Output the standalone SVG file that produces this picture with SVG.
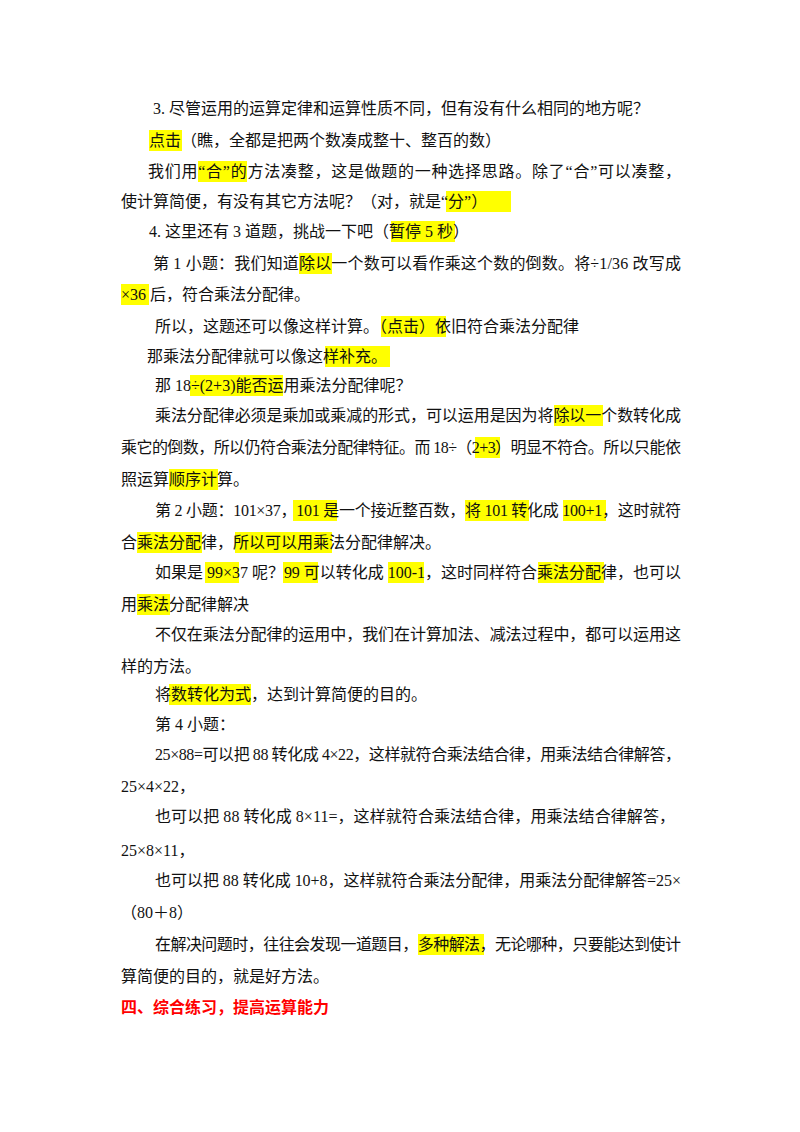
<svg xmlns="http://www.w3.org/2000/svg" width="800" height="1132" viewBox="0 0 800 1132">
<style>
text{font-family:"Liberation Serif","Noto Sans CJK SC",serif;font-size:16px;fill:#111}
.h{fill:#ffff00}
.r{fill:#ff0000;font-weight:bold}
</style>
<rect width="800" height="1132" fill="#fff"/>
<g id="highlights">
<rect class="h" x="149" y="130" width="33" height="21"/>
<rect class="h" x="198" y="161" width="49" height="21"/>
<rect class="h" x="446" y="191" width="65" height="21"/>
<rect class="h" x="391" y="221" width="64" height="21"/>
<rect class="h" x="299" y="253" width="33" height="21"/>
<rect class="h" x="121" y="284" width="28" height="21"/>
<rect class="h" x="381" y="316" width="65" height="21"/>
<rect class="h" x="325" y="346" width="65" height="21"/>
<rect class="h" x="190" y="375" width="93" height="21"/>
<rect class="h" x="554" y="405" width="49" height="21"/>
<rect class="h" x="475" y="437" width="25" height="21"/>
<rect class="h" x="169" y="469" width="49" height="21"/>
<rect class="h" x="293" y="500" width="44" height="21"/>
<rect class="h" x="465" y="500" width="64" height="21"/>
<rect class="h" x="563" y="500" width="43" height="21"/>
<rect class="h" x="137" y="532" width="65" height="21"/>
<rect class="h" x="235" y="532" width="97" height="21"/>
<rect class="h" x="205" y="562" width="34" height="21"/>
<rect class="h" x="283" y="562" width="35" height="21"/>
<rect class="h" x="388" y="562" width="36" height="21"/>
<rect class="h" x="538" y="562" width="66" height="21"/>
<rect class="h" x="137" y="594" width="33" height="21"/>
<rect class="h" x="169" y="684" width="82" height="21"/>
<rect class="h" x="418" y="934" width="66" height="21"/>
</g>
<g id="text">
<text x="153" y="114">3. 尽管运用的运算定律和运算性质不同，但有没有什么相同的地方呢？</text>
<text x="149" y="146">点击（瞧，全都是把两个数凑成整十、整百的数）</text>
<text x="148" y="177" textLength="533" lengthAdjust="spacing">我们用“合”的方法凑整，这是做题的一种选择思路。除了“合”可以凑整，</text>
<text x="121" y="207">使计算简便，有没有其它方法呢？（对，就是“分”）</text>
<text x="149" y="237">4. 这里还有 3 道题，挑战一下吧（暂停 5 秒）</text>
<text x="153" y="269" textLength="528" lengthAdjust="spacing">第 1 小题：我们知道除以一个数可以看作乘这个数的倒数。将÷1/36 改写成</text>
<text x="121" y="300">×36 后，符合乘法分配律。</text>
<text x="155" y="332">所以，这题还可以像这样计算。（点击）依旧符合乘法分配律</text>
<text x="147" y="362">那乘法分配律就可以像这样补充。</text>
<text x="155" y="391">那 18÷(2+3)能否运用乘法分配律呢？</text>
<text x="155" y="421" textLength="526" lengthAdjust="spacing">乘法分配律必须是乘加或乘减的形式，可以运用是因为将除以一个数转化成</text>
<text x="121" y="453" textLength="560" lengthAdjust="spacing">乘它的倒数，所以仍符合乘法分配律特征。而 18÷（2+3）明显不符合。所以只能依</text>
<text x="121" y="485">照运算顺序计算。</text>
<text x="155" y="516" textLength="526" lengthAdjust="spacing">第 2 小题：101×37，101 是一个接近整百数，将 101 转化成 100+1，这时就符</text>
<text x="121" y="548">合乘法分配律，所以可以用乘法分配律解决。</text>
<text x="155" y="578" textLength="526" lengthAdjust="spacing">如果是 99×37 呢？99 可以转化成 100-1，这时同样符合乘法分配律，也可以</text>
<text x="121" y="610">用乘法分配律解决</text>
<text x="155" y="640" textLength="526" lengthAdjust="spacing">不仅在乘法分配律的运用中，我们在计算加法、减法过程中，都可以运用这</text>
<text x="121" y="672">样的方法。</text>
<text x="155" y="700">将数转化为式，达到计算简便的目的。</text>
<text x="155" y="730">第 4 小题：</text>
<text x="155" y="760" textLength="526" lengthAdjust="spacing">25×88=可以把 88 转化成 4×22，这样就符合乘法结合律，用乘法结合律解答，</text>
<text x="121" y="792">25×4×22，</text>
<text x="155" y="822" textLength="520" lengthAdjust="spacing">也可以把 88 转化成 8×11=，这样就符合乘法结合律，用乘法结合律解答，</text>
<text x="121" y="856">25×8×11，</text>
<text x="155" y="886" textLength="526" lengthAdjust="spacing">也可以把 88 转化成 10+8，这样就符合乘法分配律，用乘法分配律解答=25×</text>
<text x="121" y="918">（80＋8）</text>
<text x="155" y="950" textLength="526" lengthAdjust="spacing">在解决问题时，往往会发现一道题目，多种解法，无论哪种，只要能达到使计</text>
<text x="121" y="982">算简便的目的，就是好方法。</text>
<text class="r" x="121" y="1013">四、综合练习，提高运算能力</text>
</g>
</svg>
